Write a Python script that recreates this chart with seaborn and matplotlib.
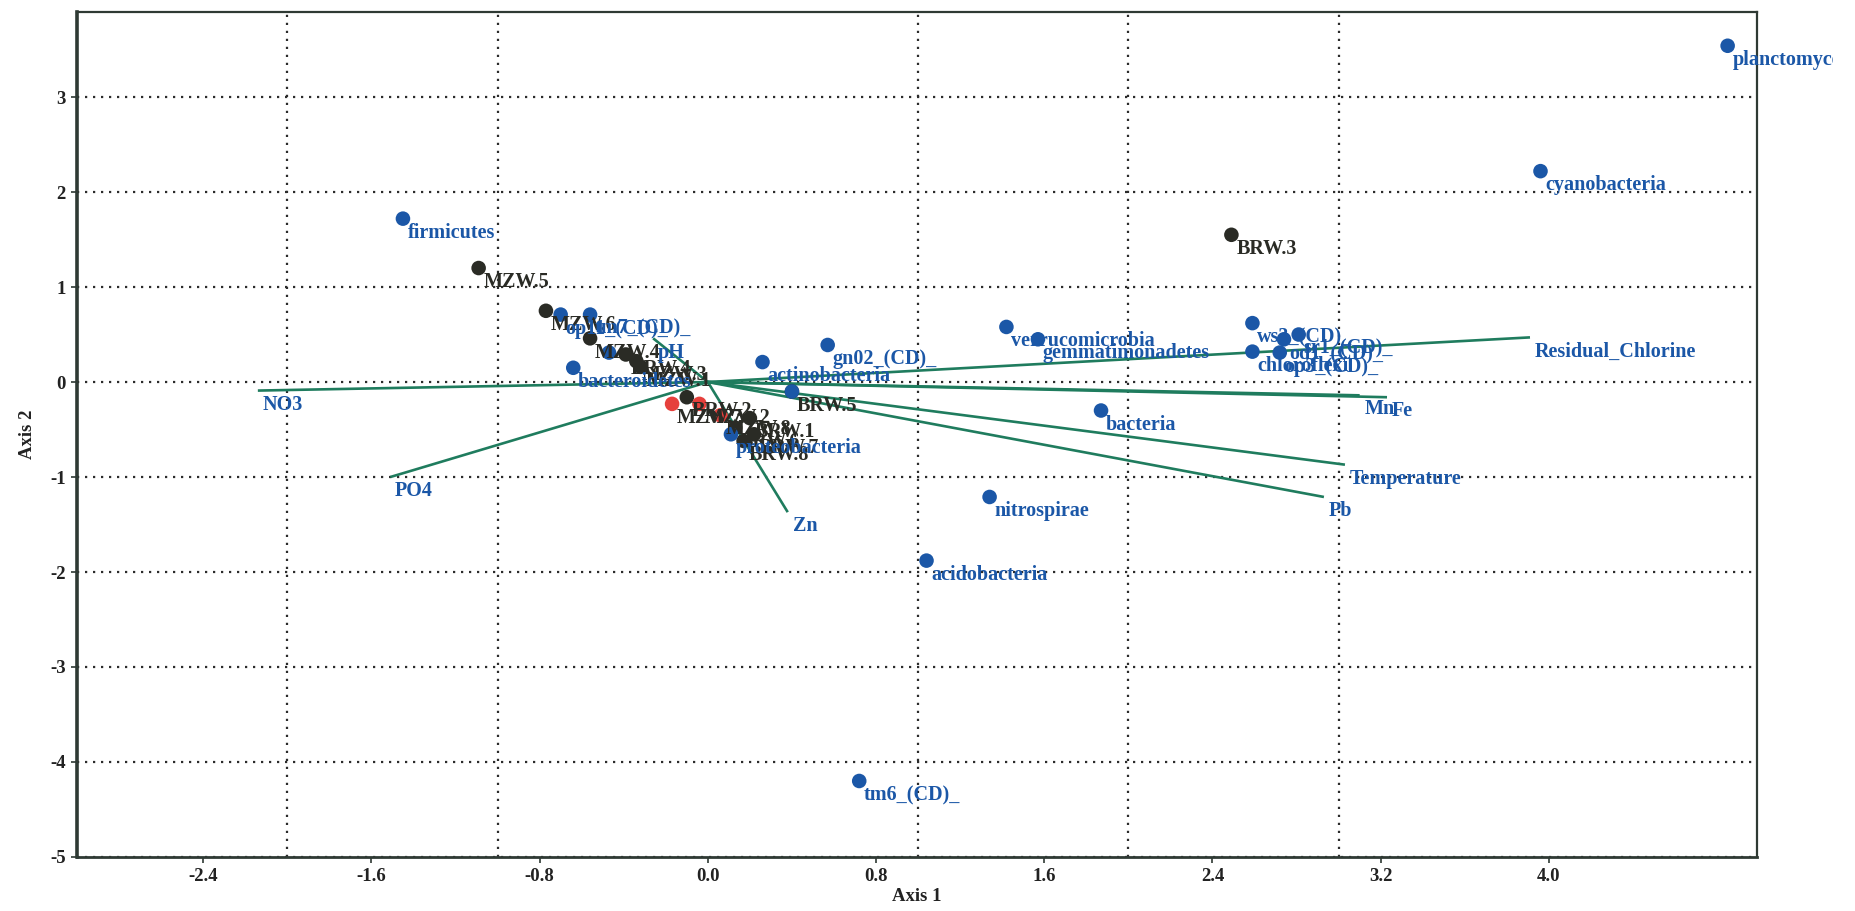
import numpy as np
import pandas as pd
import matplotlib
matplotlib.use("Agg")
import matplotlib.pyplot as plt
from matplotlib.transforms import Bbox, TransformedBbox
import seaborn as sns

# --- ordination scores -------------------------------------------------------
species_names = ["planctomycetes", "cyanobacteria", "firmicutes", "verrucomicrobia",
                 "gemmatimonadetes", "gn02_(CD)_", "actinobacteria", "bacteroidetes",
                 "op11_(CD)_", "tm7_(CD)_", "", "ws3_(CD)_", "sr1_(CD)_", "od1_(CD)_",
                 "chloroflexi", "op3_(CD)_", "bacteria", "nitrospirae", "acidobacteria",
                 "tm6_(CD)_", "proteobacteria", ""]
species_x = [4.85, 3.96, -1.45, 1.42, 1.57, 0.57, 0.26, -0.64, -0.70, -0.56, -0.47,
             2.59, 2.81, 2.74, 2.59, 2.72, 1.87, 1.34, 1.04, 0.72, 0.11, 0.40]
species_y = [3.54, 2.22, 1.72, 0.58, 0.45, 0.39, 0.21, 0.15, 0.71, 0.71, 0.31,
             0.62, 0.50, 0.45, 0.32, 0.31, -0.30, -1.21, -1.88, -4.20, -0.55, -0.10]

sample_names = ["MZW.5", "MZW.6", "MZW.4", "BRW.4", "MZW.3", "MZW.1", "BRW.2", "BRW.3",
                "BRW.5", "BRW.1", "BRW.6", "BRW.7", "BRW.8", "MZW.7", "MZW.2", "MZW.8"]
sample_x = [-1.09, -0.77, -0.56, -0.39, -0.34, -0.32, -0.10, 2.49,
            0.40, 0.20, 0.13, 0.22, 0.17, -0.17, -0.04, 0.06]
sample_y = [1.20, 0.75, 0.46, 0.29, 0.22, 0.16, -0.16, 1.55,
            -0.10, -0.38, -0.48, -0.55, -0.62, -0.23, -0.23, -0.35]
sample_group = ["site"] * 13 + ["ref"] * 3

env_names = ["Residual_Chlorine", "Mn", "Fe", "Temperature", "Pb", "Zn", "PO4", "NO3", "pH"]
env_x = [3.91, 3.10, 3.23, 3.03, 2.93, 0.38, -1.51, -2.14, -0.26]
env_y = [0.47, -0.14, -0.16, -0.87, -1.21, -1.37, -1.00, -0.09, 0.46]

x_ticks = [-2.4, -1.6, -0.8, 0.0, 0.8, 1.6, 2.4, 3.2, 4.0]
y_ticks = [-5, -4, -3, -2, -1, 0, 1, 2, 3]

# --- styling -----------------------------------------------------------------
BLUE = "#1b57a7"
DARK = "#2a2b25"
RED = "#e6403c"
GREEN = "#1f7c5e"
FRAME = "#2f3a34"

sns.set_theme(style="white")
plt.rcParams["font.family"] = ["Liberation Serif", "DejaVu Serif"]

fig = plt.figure(figsize=(18.56, 9.11), dpi=100)
fig.patch.set_facecolor("white")
ax = fig.add_axes([0.0415, 0.0593, 0.9052, 0.928])
ax.set_facecolor("white")

species = pd.DataFrame({"name": species_names, "x": species_x, "y": species_y})
samples = pd.DataFrame({"name": sample_names, "x": sample_x, "y": sample_y,
                        "group": sample_group})

# environmental vectors from the origin
for name, ex, ey in zip(env_names, env_x, env_y):
    ax.plot([0, ex], [0, ey], color=GREEN, lw=1.9, zorder=2, solid_capstyle="butt")

sns.scatterplot(data=samples, x="x", y="y", hue="group",
                palette={"site": DARK, "ref": RED}, s=110, edgecolor="none",
                legend=False, ax=ax, zorder=3)
sns.scatterplot(data=species, x="x", y="y", color=BLUE, s=110, edgecolor="none",
                legend=False, ax=ax, zorder=4)

clip = TransformedBbox(Bbox([[0, 0], [0.9876, 1]]), fig.transFigure)


def label(name, x, y, color):
    t = ax.annotate(name, (x, y), xytext=(3.5, -3.0), textcoords="offset points",
                    ha="left", va="top", fontsize=14.5, fontweight="bold",
                    color=color, annotation_clip=False, zorder=5)
    t.set_clip_on(True)
    t.set_clip_box(clip)


for _, r in samples.iterrows():
    label(r["name"], r["x"], r["y"], DARK)
for _, r in species.iterrows():
    label(r["name"], r["x"], r["y"], BLUE)
for name, ex, ey in zip(env_names, env_x, env_y):
    label(name, ex, ey, BLUE)

# --- axes, grid --------------------------------------------------------------
ax.set_xlim(-3.0, 4.99)
ax.set_ylim(-5.0, 3.9)
ax.set_xticks(x_ticks)
ax.set_xticklabels([f"{v:.1f}" for v in x_ticks])
ax.set_yticks(y_ticks)
ax.set_yticklabels([str(v) for v in y_ticks])
ax.set_xticks(np.arange(-2, 5, 1), minor=True)

grid_kw = dict(color="#2b2b2b", linestyle=(0, (1, 2.6)), linewidth=1.6)
ax.grid(False)
ax.grid(True, which="minor", axis="x", **grid_kw)
ax.grid(True, which="major", axis="y", **grid_kw)
ax.set_axisbelow(True)

ax.tick_params(axis="both", which="major", direction="out", length=4, width=1.2,
               color=FRAME, labelsize=13.5, pad=4, bottom=True, left=True)
ax.tick_params(axis="x", which="minor", length=0)
for lbl in ax.get_xticklabels() + ax.get_yticklabels():
    lbl.set_fontweight("bold")
    lbl.set_color("#222222")

for side, sp in ax.spines.items():
    sp.set_color(FRAME)
    sp.set_linewidth(1.6)
ax.spines["left"].set_linewidth(2.6)
ax.spines["bottom"].set_linewidth(2.0)

ax.set_xlabel("Axis 1", fontsize=13.5, fontweight="bold", color="#222222", labelpad=2)
ax.set_ylabel("Axis 2", fontsize=13.5, fontweight="bold", color="#222222", labelpad=10)

fig.savefig("out.png", dpi=100, facecolor="white")
